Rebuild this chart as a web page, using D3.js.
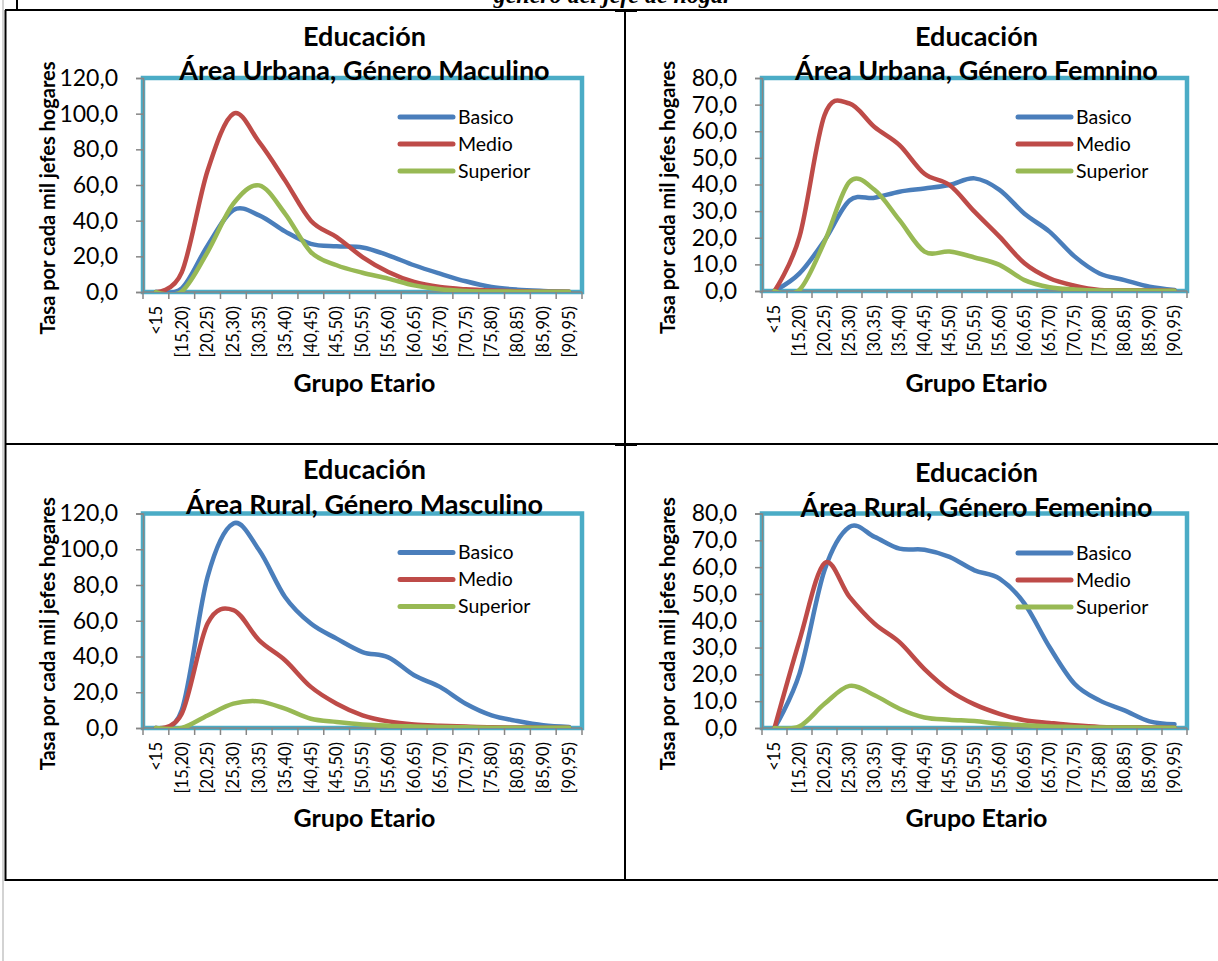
<!DOCTYPE html>
<html>
<head>
<meta charset="utf-8">
<script src="https://cdn.jsdelivr.net/npm/d3@7"></script>
<style>
  html, body { margin: 0; padding: 0; background: #ffffff; }
  svg { display: block; }
  text { font-family: Lato, "Open Sans", sans-serif; fill: #000; }
</style>
</head>
<body>
<svg id="chart" width="1218" height="961"></svg>
<script>
// ---------------- DATA ----------------
const categories = ["<15","[15,20)","[20,25)","[25,30)","[30,35)","[35,40)","[40,45)","[45,50)",
  "[50,55)","[55,60)","[60,65)","[65,70)","[70,75)","[75,80)","[80,85)","[85,90)","[90,95)"];
const seriesNames = ["Basico", "Medio", "Superior"];
const pageCaption = "género del jefe de hogar";
const titleTop = "Educación";
const panelTitles = ["Área Urbana, Género Maculino", "Área Urbana, Género Femnino",
                     "Área Rural, Género Masculino", "Área Rural, Género Femenino"];
const yAxisTitle = "Tasa por cada mil jefes hogares";
const xAxisTitle = "Grupo Etario";

// Área Urbana, Género Masculino
const urbMascBasico   = [0, 2, 26, 46, 43, 34, 27, 25.6, 25, 20.6, 15, 10.3, 6, 2.8, 1.3, 0.6, 0.2];
const urbMascMedio    = [0, 11, 68, 100, 84, 62.6, 40, 30.8, 19.6, 11.2, 5.6, 2.8, 1.5, 0.8, 0.4, 0.2, 0.1];
const urbMascSuperior = [0, 0.3, 22.4, 49.5, 59.8, 44, 22.4, 15, 10.8, 7.5, 3.7, 1.5, 0.6, 0.3, 0.2, 0.1, 0.1];
// Área Urbana, Género Femenino
const urbFemBasico    = [0, 6.6, 19, 34, 35, 37.3, 38.5, 39.8, 42.3, 38, 29, 22.3, 13, 6.6, 4.1, 1.6, 0.4];
const urbFemMedio     = [0, 20.4, 66, 70.4, 61.6, 54.8, 44, 39.8, 29.8, 20.4, 10.4, 4.8, 2, 0.4, 0.3, 0.2, 0.1];
const urbFemSuperior  = [0, 0.4, 18.5, 41, 38, 26.6, 14.8, 14.8, 12.6, 9.8, 4.1, 1.4, 0.6, 0.2, 0.2, 0.1, 0.1];
// Área Rural, Género Masculino
const rurMascBasico   = [0, 9.9, 84.5, 114.4, 99.4, 73.3, 58.4, 50, 42.5, 39.5, 29.5, 23, 13.6, 7.1, 3.9, 1.5, 0.6];
const rurMascMedio    = [0, 8, 58.4, 66, 49, 37.9, 23, 13.6, 7.1, 3.7, 2, 1.3, 0.8, 0.4, 0.3, 0.2, 0.1];
const rurMascSuperior = [0, 0, 7, 13.6, 14.9, 10.8, 5.2, 3.4, 2, 1.3, 0.9, 0.6, 0.4, 0.2, 0.2, 0.1, 0.1];
// Área Rural, Género Femenino
const rurFemBasico    = [0, 20.3, 58.8, 75, 71.3, 66.9, 66.5, 63.8, 58.8, 55.7, 46.4, 30.2, 16.5, 10.3, 6.6, 2.5, 1.4];
const rurFemMedio     = [0, 32.7, 61.5, 48.9, 38.9, 32, 22, 14, 8.8, 5.3, 2.9, 1.9, 1, 0.4, 0.3, 0.2, 0.1];
const rurFemSuperior  = [0, 0.6, 9, 15.7, 12.2, 7.2, 3.9, 3.1, 2.6, 1.6, 1, 0.6, 0.4, 0.2, 0.2, 0.1, 0.1];

const yMaxes = [120, 80, 120, 80];
const yTickSteps = [20, 10, 20, 10];

// ---------------- STYLE / LAYOUT ----------------
const colors = ["#4A7EBB", "#BE4B48", "#98B954"];
const plotBorder = "#4BACC6";
const axisGray = "#868686";

const panels = [
  { data: [urbMascBasico, urbMascMedio, urbMascSuperior], x0: 143, x1: 582, yTop: 78, yBot: 292,
    t1: 46, t2: 80, yTitleX: 55, legX: 400, legY: 117, xTitleY: 392 },
  { data: [urbFemBasico, urbFemMedio, urbFemSuperior], x0: 762, x1: 1187, yTop: 78, yBot: 291,
    t1: 46, t2: 80, yTitleX: 675, legX: 1018, legY: 117, xTitleY: 392 },
  { data: [rurMascBasico, rurMascMedio, rurMascSuperior], x0: 143, x1: 582, yTop: 513.5, yBot: 728,
    t1: 479, t2: 514, yTitleX: 55, legX: 400, legY: 552.5, xTitleY: 827 },
  { data: [rurFemBasico, rurFemMedio, rurFemSuperior], x0: 762, x1: 1187, yTop: 513.5, yBot: 728,
    t1: 482, t2: 517, yTitleX: 675, legX: 1018, legY: 553, xTitleY: 827 }
];

const svg = d3.select("#chart");

// ---------------- PAGE / TABLE FRAME ----------------
svg.append("line").attr("x1", 3).attr("x2", 3).attr("y1", 0).attr("y2", 961)
  .attr("stroke", "#c4c4c4").attr("stroke-width", 1.5);
svg.append("text").attr("x", 613).attr("y", 2.5).attr("text-anchor", "middle")
  .style("font-family", "'Liberation Serif', serif").style("font-style", "italic")
  .style("font-weight", "bold").style("font-size", "24px").text(pageCaption);
const frame = svg.append("g").attr("stroke", "#000").attr("stroke-width", 2).attr("fill", "none");
frame.append("line").attr("x1", 17).attr("x2", 17).attr("y1", 0).attr("y2", 10);
frame.append("line").attr("x1", 5).attr("x2", 1218).attr("y1", 10).attr("y2", 10);
frame.append("line").attr("x1", 5).attr("x2", 1218).attr("y1", 444).attr("y2", 444);
frame.append("line").attr("x1", 5).attr("x2", 1218).attr("y1", 880).attr("y2", 880);
frame.append("line").attr("x1", 5.5).attr("x2", 5.5).attr("y1", 10).attr("y2", 881);
frame.append("line").attr("x1", 625).attr("x2", 625).attr("y1", 10).attr("y2", 880);
frame.append("line").attr("x1", 615).attr("x2", 637).attr("y1", 10.5).attr("y2", 10.5).attr("stroke-width", 3);
frame.append("line").attr("x1", 615).attr("x2", 637).attr("y1", 444.5).attr("y2", 444.5).attr("stroke-width", 3);

// ---------------- PANELS ----------------
const fmt = v => d3.format(".1f")(v).replace(".", ",");

panels.forEach((p, pi) => {
  const g = svg.append("g");
  const x = d3.scaleBand().domain(categories).range([p.x0, p.x1]).padding(0);
  const y = d3.scaleLinear().domain([0, yMaxes[pi]]).range([p.yBot, p.yTop]);
  const cx = (p.x0 + p.x1) / 2 + 2;

  // plot area border
  g.append("rect").attr("x", p.x0).attr("y", p.yTop).attr("width", p.x1 - p.x0).attr("height", p.yBot - p.yTop)
    .attr("fill", "none").attr("stroke", plotBorder).attr("stroke-width", 4.5);

  // titles
  g.append("text").attr("x", cx).attr("y", p.t1).attr("text-anchor", "middle")
    .style("font-weight", "bold").style("font-size", "27px").text(titleTop);
  g.append("text").attr("x", cx).attr("y", p.t2).attr("text-anchor", "middle")
    .style("font-weight", "bold").style("font-size", "27px").text(panelTitles[pi]);

  // y axis
  const yTicks = d3.range(0, yMaxes[pi] + 0.001, yTickSteps[pi]);
  const yAxis = g.append("g").attr("transform", `translate(${p.x0},0)`)
    .call(d3.axisLeft(y).tickValues(yTicks).tickFormat(fmt).tickSize(7).tickPadding(18));
  yAxis.select(".domain").attr("stroke", axisGray).attr("stroke-width", 1.5);
  yAxis.selectAll(".tick line").attr("stroke", axisGray).attr("stroke-width", 1.5);
  yAxis.selectAll(".tick text").style("font-size", "23px").style("font-family", "Lato").attr("fill", "#000");

  // x axis (ticks at band boundaries)
  const xAxisG = g.append("g").attr("transform", `translate(0,${p.yBot})`);
  xAxisG.append("line").attr("x1", p.x0).attr("x2", p.x1).attr("stroke", axisGray).attr("stroke-width", 1.5);
  const bounds = categories.map(c => x(c)).concat([x(categories[categories.length - 1]) + x.bandwidth()]);
  xAxisG.selectAll("line.tk").data(bounds).join("line").attr("class", "tk")
    .attr("x1", d => d).attr("x2", d => d).attr("y1", 0).attr("y2", 7)
    .attr("stroke", axisGray).attr("stroke-width", 1.5);
  xAxisG.selectAll("text").data(categories).join("text")
    .attr("transform", d => `translate(${x(d) + x.bandwidth() / 2},14) rotate(-90)`)
    .attr("text-anchor", "end").attr("dy", "0.35em")
    .style("font-size", "16.5px").text(d => d);

  // axis titles
  g.append("text").attr("transform", `translate(${p.yTitleX},${(p.yTop + p.yBot) / 2 + 13}) rotate(-90)`)
    .attr("text-anchor", "middle").style("font-weight", "bold").style("font-size", "20px").text(yAxisTitle);
  g.append("text").attr("x", cx).attr("y", p.xTitleY).attr("text-anchor", "middle")
    .style("font-weight", "bold").style("font-size", "25px").text(xAxisTitle);

  // lines
  const clipId = "clip" + pi;
  svg.append("clipPath").attr("id", clipId).append("rect")
    .attr("x", p.x0).attr("y", p.yTop - 10).attr("width", p.x1 - p.x0).attr("height", p.yBot - p.yTop + 10);
  const line = d3.line()
    .x((d, i) => x(categories[i]) + x.bandwidth() / 2)
    .y(d => y(d))
    .curve(d3.curveCardinal.tension(0));
  p.data.forEach((s, si) => {
    g.append("path").datum(s).attr("d", line).attr("fill", "none")
      .attr("stroke", colors[si]).attr("stroke-width", 4.5).attr("stroke-linejoin", "round")
      .attr("stroke-linecap", "round").attr("clip-path", `url(#${clipId})`);
  });

  // legend
  seriesNames.forEach((n, si) => {
    const ly = p.legY + si * 27;
    g.append("line").attr("x1", p.legX).attr("x2", p.legX + 53).attr("y1", ly).attr("y2", ly)
      .attr("stroke", colors[si]).attr("stroke-width", 5).attr("stroke-linecap", "round");
    g.append("text").attr("x", p.legX + 58).attr("y", ly).attr("dy", "0.35em")
      .style("font-size", "19.5px").text(n);
  });
});
</script>
</body>
</html>
